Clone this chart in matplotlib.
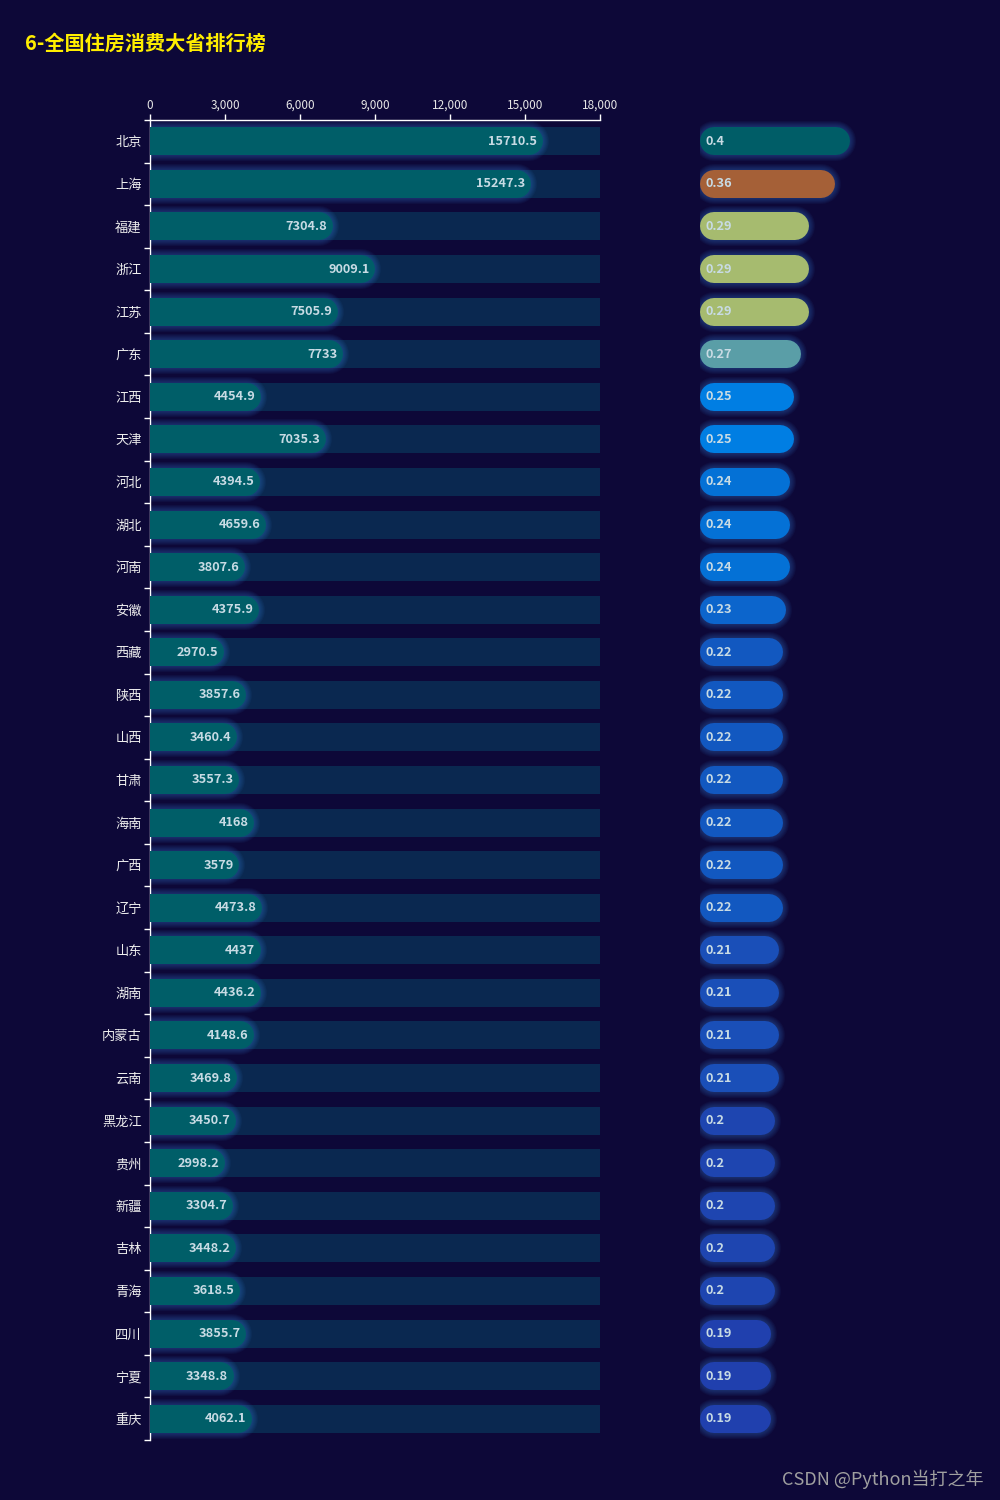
import numpy as np
import matplotlib.pyplot as plt

plt.rcParams['font.family'] = ['Noto Sans CJK SC', 'DejaVu Sans']

# data
provinces = ["北京", "上海", "福建", "浙江", "江苏", "广东", "江西", "天津", "河北", "湖北",
             "河南", "安徽", "西藏", "陕西", "山西", "甘肃", "海南", "广西", "辽宁", "山东",
             "湖南", "内蒙古", "云南", "黑龙江", "贵州", "新疆", "吉林", "青海", "四川", "宁夏", "重庆"]
spend = [15710.5, 15247.3, 7304.8, 9009.1, 7505.9, 7733, 4454.9, 7035.3, 4394.5, 4659.6,
         3807.6, 4375.9, 2970.5, 3857.6, 3460.4, 3557.3, 4168, 3579, 4473.8, 4437,
         4436.2, 4148.6, 3469.8, 3450.7, 2998.2, 3304.7, 3448.2, 3618.5, 3855.7, 3348.8, 4062.1]
ratio = [0.4, 0.36, 0.29, 0.29, 0.29, 0.27, 0.25, 0.25, 0.24, 0.24,
         0.24, 0.23, 0.22, 0.22, 0.22, 0.22, 0.22, 0.22, 0.22, 0.21,
         0.21, 0.21, 0.21, 0.2, 0.2, 0.2, 0.2, 0.2, 0.19, 0.19, 0.19]
x_ticks = [0, 3000, 6000, 9000, 12000, 15000, 18000]

# colours
bg = '#0d0838'
track = '#0a2850'
teal = '#005e68'
glow = '#3a8ae8'
label_col = '#c8dbe4'
ratio_colors = {0.4: '#005d67', 0.36: '#a56037', 0.29: '#a6bb6f', 0.27: '#5a9ea7',
                0.25: '#007ee3', 0.24: '#0471d6', 0.23: '#0c65cc', 0.22: '#1258c0',
                0.21: '#1a4fb8', 0.2: '#1e45b0', 0.19: '#2040ae'}

W, H, DPI = 10, 15, 100
fig = plt.figure(figsize=(W, H), dpi=DPI, facecolor=bg)

ax = fig.add_axes([0.15, 0.04, 0.45, 0.88])
ax2 = fig.add_axes([0.70, 0.04, 0.30, 0.88])
for a in (ax, ax2):
    a.set_facecolor('none')
    a.set_ylim(len(provinces) - 0.5, -0.5)

ax.set_xlim(0, 18000)
ax2.set_xlim(0, 0.8)
ax2.axis('off')

y = np.arange(len(provinces))
bar_px = 28
lw = bar_px * 0.72
r_left = (bar_px / 2) * 18000 / (0.45 * W * DPI)
r_right = (bar_px / 2) * 0.8 / (0.30 * W * DPI)


def glow_line(a, x0, x1, yi):
    # soft halo, widest first
    for k in range(6, 0, -1):
        a.plot([x0, x1], [yi, yi], color=glow, alpha=0.055,
               lw=(bar_px + 2 * k) * 0.72, solid_capstyle='round', zorder=2)


# track bars
ax.barh(y, 18000, height=bar_px / (0.88 * H * DPI / len(provinces)), color=track, zorder=1)

# left bars
for yi, v in zip(y, spend):
    glow_line(ax, 0, v - r_left, yi)
    ax.plot([0, v - r_left], [yi, yi], color=teal, lw=lw, solid_capstyle='round', zorder=3)
    ax.annotate(f"{v:g}", (v, yi), xytext=(-4, 0), textcoords='offset points',
                ha='right', va='center', fontsize=9.2, fontweight='bold', color=label_col, zorder=4)

# right bars
for yi, v in zip(y, ratio):
    glow_line(ax2, r_right, v - r_right, yi)
    ax2.plot([r_right, v - r_right], [yi, yi], color=ratio_colors[v], lw=lw,
             solid_capstyle='round', zorder=3)
    ax2.annotate(f"{v:g}", (0, yi), xytext=(4, 0), textcoords='offset points',
                 ha='left', va='center', fontsize=9.2, fontweight='bold', color=label_col, zorder=4)

# axes styling
for s in ('right', 'bottom'):
    ax.spines[s].set_visible(False)
for s in ('top', 'left'):
    ax.spines[s].set_color('white')
    ax.spines[s].set_linewidth(1)

ax.xaxis.tick_top()
ax.set_xticks(x_ticks)
ax.set_xticklabels([f"{t:,}" for t in x_ticks])
ax.tick_params(axis='x', colors='white', labelcolor='#e6e6e6', labelsize=8.5,
               length=4, width=1, pad=2)

ax.set_yticks(y)
ax.set_yticklabels(provinces)
ax.set_yticks(np.arange(len(provinces) + 1) - 0.5, minor=True)
ax.tick_params(axis='y', which='major', length=0, pad=6, labelsize=9.5, labelcolor='#eeeeee')
ax.tick_params(axis='y', which='minor', length=4.3, width=1, color='white')

fig.text(0.025, 1 - 43 / 1500, "6-全国住房消费大省排行榜", ha='left', va='center',
         fontsize=14.5, fontweight='bold', color='#ffee00')
fig.text(0.983, 1 - 1479 / 1500, "CSDN @Python当打之年", ha='right', va='center',
         fontsize=13, color='#a0a0a0')

plt.savefig("out.png", dpi=DPI, facecolor=bg)
